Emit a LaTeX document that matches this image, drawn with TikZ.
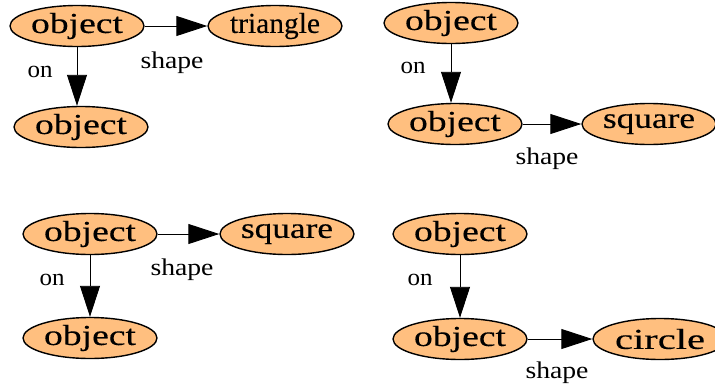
\documentclass[tikz,border=0pt]{standalone}
\usepackage{fontspec}
\usepackage{graphicx}
\setmainfont{Liberation Serif}
\newfontfamily\nodefont[FakeBold=0.25]{Liberation Serif}
\usetikzlibrary{shapes.geometric,arrows.meta}
\definecolor{nodefill}{HTML}{FFBF7F}
\newsavebox\fitbox
\newcommand\fitto[2]{\sbox\fitbox{#2}%
  \pgfmathsetmacro\fitratio{#1/\the\wd\fitbox}%
  \scalebox{\fitratio}[1]{\usebox\fitbox}}
\tikzset{
  obj/.style={ellipse, draw=black, line width=1.4pt, fill=nodefill,
    minimum width=134pt, minimum height=41pt, inner sep=0pt,
    font=\nodefont\fontsize{29}{32}\selectfont},
  rel/.style={draw=black, line width=0.9pt,
    -{Triangle[length=31pt,width=20pt]}},
  lbl/.style={font=\fontsize{24}{28}\selectfont, inner sep=0pt}
}
\begin{document}
\begin{tikzpicture}[x=1pt,y=-1pt]
\useasboundingbox (0,0) rectangle (715,389);
% panel 1
\node[obj] (a1) at (77,26) {\fitto{92pt}{object}};
\node[obj] (a2) at (275,26) {\fitto{90pt}{triangle}};
\node[obj] (a3) at (81,127) {\fitto{92pt}{object}};
\draw[rel] (a1) -- (a2);
\draw[rel] (a1.south) -- (a1.south |- a3.north);
\node[lbl] (a4) at (40,72) {\fitto{25pt}{on}};
\node[lbl] (a5) at (172,63) {\fitto{63pt}{shape}};
% panel 2
\node[obj] (b1) at (451,23) {\fitto{92pt}{object}};
\node[obj] (b2) at (455,124) {\fitto{92pt}{object}};
\node[obj] (b3) at (649,124) {\fitto{92pt}{square}};
\draw[rel] (b1.south) -- (b1.south |- b2.north);
\draw[rel] (b2) -- (b3);
\node[lbl] (b4) at (413,68) {\fitto{25pt}{on}};
\node[lbl] (b5) at (547,159) {\fitto{63pt}{shape}};
% panel 3
\node[obj] (c1) at (90,234) {\fitto{92pt}{object}};
\node[obj] (c2) at (287,234) {\fitto{92pt}{square}};
\node[obj] (c3) at (90,338) {\fitto{92pt}{object}};
\draw[rel] (c1) -- (c3);
\draw[rel] (c1) -- (c2);
\node[lbl] (c4) at (52,280) {\fitto{25pt}{on}};
\node[lbl] (c5) at (182,270) {\fitto{63pt}{shape}};
% panel 4
\node[obj] (d1) at (460,234) {\fitto{92pt}{object}};
\node[obj] (d2) at (460,339) {\fitto{92pt}{object}};
\node[obj] (d3) at (660,339) {\fitto{90pt}{circle}};
\draw[rel] (d1) -- (d2);
\draw[rel] (d2) -- (d3);
\node[lbl] (d4) at (420,280) {\fitto{25pt}{on}};
\node[lbl] (d5) at (557,373) {\fitto{63pt}{shape}};
\end{tikzpicture}
\end{document}
